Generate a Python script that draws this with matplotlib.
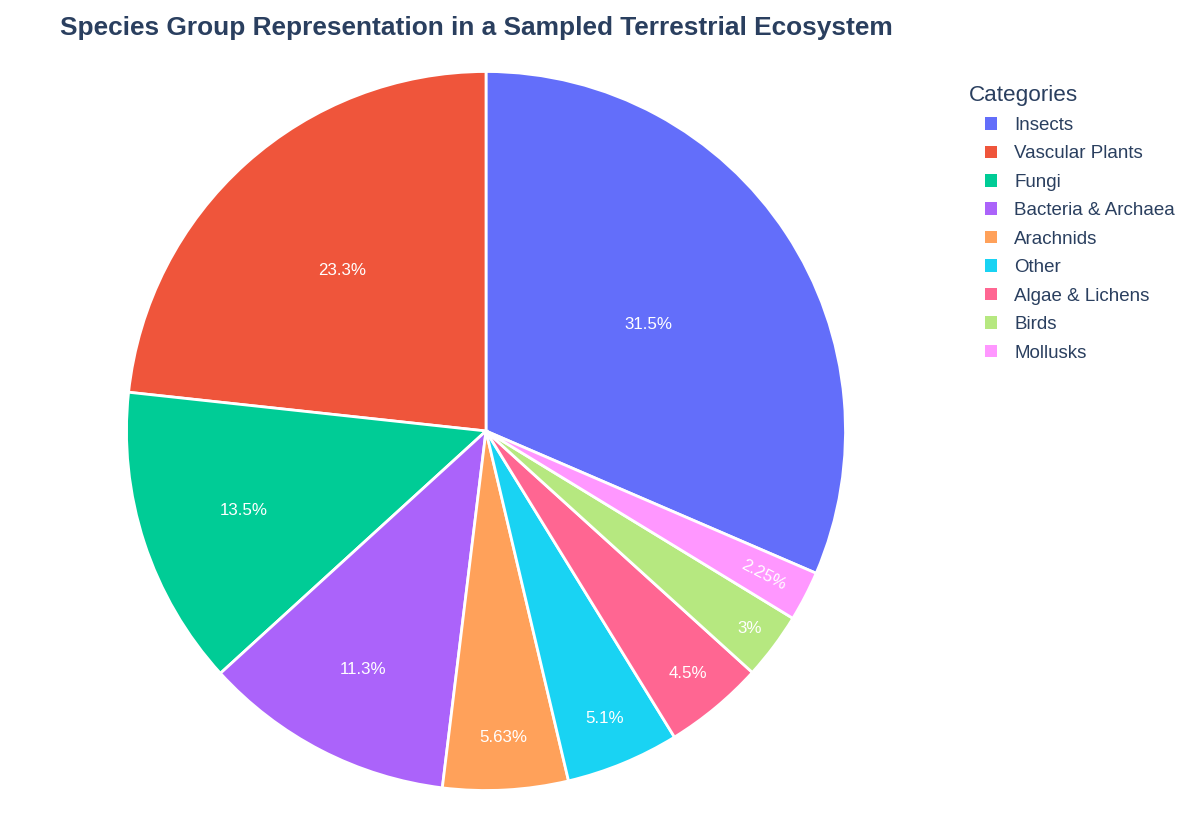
import matplotlib
matplotlib.use("Agg")
import matplotlib.pyplot as plt
from matplotlib.patches import Patch
import numpy as np

plt.rcParams['font.family'] = ['Liberation Sans', 'DejaVu Sans']

categories = ["Insects", "Vascular Plants", "Fungi", "Bacteria & Archaea", "Arachnids",
              "Other", "Algae & Lichens", "Birds", "Mollusks"]
percent_values = [31.5, 23.3, 13.5, 11.3, 5.63, 5.1, 4.5, 3.0, 2.25]
colors = ["#636EFA", "#EF553B", "#00CC96", "#AB63FA", "#FFA15A",
          "#19D3F3", "#FF6692", "#B6E880", "#FF97FF"]
title = "Species Group Representation in a Sampled Terrestrial Ecosystem"
legend_title = "Categories"

# radial position of each percentage label (fraction of radius)
label_radius = [0.54, 0.60, 0.71, 0.747, 0.855, 0.865, 0.878, 0.915, 0.87]

TXT = "#2a3f5f"
W, H = 1200, 840
fig = plt.figure(figsize=(12, 8.4), dpi=100)
fig.patch.set_facecolor("white")

cx, cy, R = 486, 431, 359.5
ax = fig.add_axes([(cx - R) / W, (H - cy - R) / H, 2 * R / W, 2 * R / H])
total = sum(percent_values)
start = 90 - 360 * percent_values[0] / total
wedges, _ = ax.pie(percent_values, colors=colors, startangle=start, counterclock=True,
                   radius=1.0, wedgeprops=dict(edgecolor="white", linewidth=2))
ax.set_xlim(-1, 1)
ax.set_ylim(-1, 1)
ax.set_aspect("auto")
ax.axis("off")

for w, v, r in zip(wedges, percent_values, label_radius):
    p = 100 * v / total
    mid = np.deg2rad((w.theta1 + w.theta2) / 2)
    x, y = r * np.cos(mid), r * np.sin(mid)
    rot = 0
    if p < 2.5:
        rot = np.rad2deg(mid)
        if rot > 90:
            rot -= 360
    ax.text(x, y, f"{p:.3g}%", color="white", fontsize=12.2, ha="center", va="center",
            rotation=rot, rotation_mode="anchor")

fig.text(60 / W, 1 - 28 / H, title, fontsize=18.95, fontweight="bold", color=TXT,
         ha="left", va="center")

fig.text(969 / W, 1 - 96 / H, legend_title, fontsize=16.2, color=TXT, ha="left", va="center")
handles = [Patch(facecolor=c, edgecolor="none") for c in colors]
leg = fig.legend(handles, categories, loc="upper left", bbox_to_anchor=(985 / W, 1 - 117 / H),
                 frameon=False, fontsize=13.5, labelcolor=TXT, handlelength=0.65,
                 handleheight=0.65, handletextpad=0.9, labelspacing=0.61, borderaxespad=0,
                 borderpad=0)

fig.savefig("out.png", dpi=100, facecolor="white")
